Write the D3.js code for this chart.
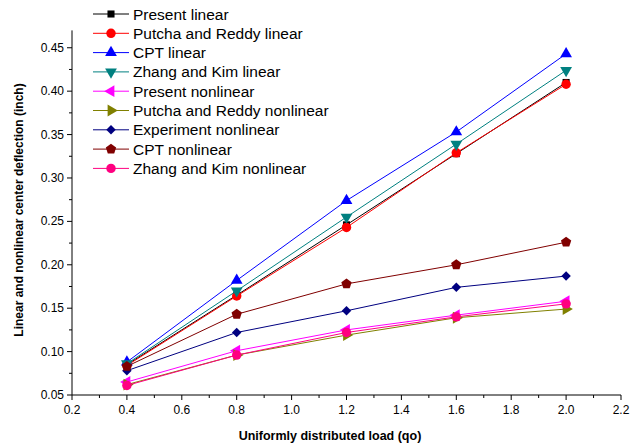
<!DOCTYPE html>
<html>
<head>
<meta charset="utf-8">
<script src="https://cdn.jsdelivr.net/npm/d3@7"></script>
<style>
  body { margin: 0; background: #fff; }
  svg { font-family: "Liberation Sans", Arial, sans-serif; }
</style>
</head>
<body>
<svg id="chart" width="640" height="447"></svg>
<script>
// load values (qo)
const loads = [0.4, 0.8, 1.2, 1.6, 2.0];

// center deflection (inch)
const presentLinear = [0.085, 0.165, 0.246, 0.328, 0.410];
const putchaLinear = [0.084, 0.164, 0.243, 0.329, 0.408];
const cptLinear = [0.088, 0.182, 0.274, 0.353, 0.443];
const zhangLinear = [0.086, 0.170, 0.255, 0.339, 0.424];
const presentNonlinear = [0.065, 0.101, 0.125, 0.142, 0.158];
const putchaNonlinear = [0.062, 0.096, 0.119, 0.139, 0.149];
const experimentNonlinear = [0.078, 0.122, 0.147, 0.174, 0.187];
const cptNonlinear = [0.083, 0.143, 0.178, 0.200, 0.226];
const zhangNonlinear = [0.061, 0.096, 0.122, 0.140, 0.155];

const xTicks = [0.2, 0.4, 0.6, 0.8, 1.0, 1.2, 1.4, 1.6, 1.8, 2.0, 2.2];
const yTicks = [0.05, 0.10, 0.15, 0.20, 0.25, 0.30, 0.35, 0.40, 0.45];

// marker shapes
const pentagon = {
  draw(ctx, size) {
    const r = Math.sqrt(size / 2.3776);
    for (let i = 0; i < 5; i++) {
      const a = -Math.PI / 2 + i * 2 * Math.PI / 5;
      if (i === 0) ctx.moveTo(r * Math.cos(a), r * Math.sin(a));
      else ctx.lineTo(r * Math.cos(a), r * Math.sin(a));
    }
    ctx.closePath();
  }
};

const series = [
  { name: "Present linear", values: presentLinear, color: "#000000", shape: d3.symbolSquare, size: 50, rot: 0 },
  { name: "Putcha and Reddy linear", values: putchaLinear, color: "#ff0000", shape: d3.symbolCircle, size: 70, rot: 0 },
  { name: "CPT linear", values: cptLinear, color: "#0000ff", shape: d3.symbolTriangle, size: 60, rot: 0 },
  { name: "Zhang and Kim linear", values: zhangLinear, color: "#008080", shape: d3.symbolTriangle, size: 60, rot: 180 },
  { name: "Present nonlinear", values: presentNonlinear, color: "#ff00ff", shape: d3.symbolTriangle, size: 60, rot: -90 },
  { name: "Putcha and Reddy nonlinear", values: putchaNonlinear, color: "#808000", shape: d3.symbolTriangle, size: 60, rot: 90 },
  { name: "Experiment nonlinear", values: experimentNonlinear, color: "#000080", shape: d3.symbolSquare, size: 45, rot: 45 },
  { name: "CPT nonlinear", values: cptNonlinear, color: "#800000", shape: pentagon, size: 70, rot: 0 },
  { name: "Zhang and Kim nonlinear", values: zhangNonlinear, color: "#ff0080", shape: d3.symbolCircle, size: 70, rot: 0 }
];

const svg = d3.select("#chart");

const x = d3.scaleLinear().domain([0.2, 2.2]).range([72, 621]);
const y = d3.scaleLinear().domain([0.05, 0.47]).range([395, 30.4]);

// x axis
const xAxis = svg.append("g").attr("transform", "translate(0,395)");
xAxis.append("line").attr("x1", x(0.2)).attr("x2", x(2.2)).attr("stroke", "#000");
xAxis.selectAll(".minor")
  .data(d3.range(0.3, 2.2, 0.2))
  .enter().append("line")
  .attr("x1", (d) => x(d)).attr("x2", (d) => x(d))
  .attr("y1", 0).attr("y2", 3)
  .attr("stroke", "#000");
xAxis.selectAll(".major")
  .data(xTicks)
  .enter().append("line")
  .attr("x1", (d) => x(d)).attr("x2", (d) => x(d))
  .attr("y1", 0).attr("y2", 5)
  .attr("stroke", "#000");
xAxis.selectAll("text")
  .data(xTicks)
  .enter().append("text")
  .attr("x", (d) => x(d))
  .attr("y", 19)
  .attr("text-anchor", "middle")
  .attr("font-size", 12)
  .text((d) => d.toFixed(1));

// y axis
const yAxis = svg.append("g").attr("transform", "translate(72,0)");
yAxis.append("line").attr("y1", y(0.05)).attr("y2", y(0.47)).attr("stroke", "#000");
yAxis.selectAll(".minor")
  .data(d3.range(0.075, 0.47, 0.05))
  .enter().append("line")
  .attr("y1", (d) => y(d)).attr("y2", (d) => y(d))
  .attr("x1", 0).attr("x2", -3)
  .attr("stroke", "#000");
yAxis.selectAll(".major")
  .data(yTicks)
  .enter().append("line")
  .attr("y1", (d) => y(d)).attr("y2", (d) => y(d))
  .attr("x1", 0).attr("x2", -5)
  .attr("stroke", "#000");
yAxis.selectAll("text")
  .data(yTicks)
  .enter().append("text")
  .attr("x", -8)
  .attr("y", (d) => y(d) + 4)
  .attr("text-anchor", "end")
  .attr("font-size", 12)
  .text((d) => d.toFixed(2));

// axis titles
svg.append("text")
  .attr("x", 330).attr("y", 440)
  .attr("text-anchor", "middle")
  .attr("font-size", 12.5).attr("font-weight", "bold")
  .text("Uniformly distributed load (qo)");
svg.append("text")
  .attr("transform", "translate(23,210) rotate(-90)")
  .attr("text-anchor", "middle")
  .attr("font-size", 12).attr("font-weight", "bold")
  .text("Linear and nonlinear center deflection (inch)");

// lines and markers
const line = d3.line().x((d, i) => x(loads[i])).y((d) => y(d));
const symbolFor = (s) => d3.symbol().type(s.shape).size(s.size);

series.forEach((s) => {
  const g = svg.append("g");
  g.append("path")
    .attr("d", line(s.values))
    .attr("fill", "none")
    .attr("stroke", s.color)
    .attr("stroke-width", 1);
  g.selectAll("path.m")
    .data(s.values)
    .enter().append("path")
    .attr("class", "m")
    .attr("d", symbolFor(s))
    .attr("transform", (d, i) => `translate(${x(loads[i])},${y(d)}) rotate(${s.rot})`)
    .attr("fill", s.color);
});

// legend
const legend = svg.append("g").attr("transform", "translate(93,14)");
series.forEach((s, i) => {
  const row = legend.append("g").attr("transform", `translate(0,${i * 19.3})`);
  row.append("line").attr("x1", 0).attr("x2", 36).attr("stroke", s.color);
  row.append("path")
    .attr("d", symbolFor(s))
    .attr("transform", `translate(18,0) rotate(${s.rot})`)
    .attr("fill", s.color);
  row.append("text")
    .attr("x", 40).attr("y", 5.5)
    .attr("font-size", 15.5)
    .text(s.name);
});
</script>
</body>
</html>
